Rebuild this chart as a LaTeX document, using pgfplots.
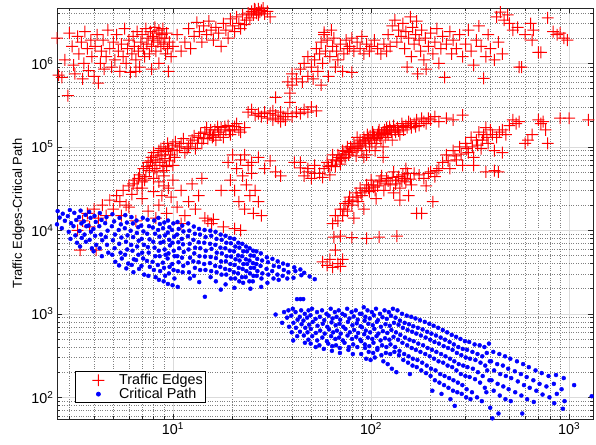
\documentclass[border=0pt]{standalone}
\usepackage{pgfplots}
\pgfplotsset{compat=1.18}
\usepackage{fontspec}
\setmainfont{Liberation Sans}
\pgfdeclareplotmark{fplus}{%
  \pgfpathmoveto{\pgfqpoint{-\pgfplotmarksize}{-0.5pt}}%
  \pgfpathlineto{\pgfqpoint{-0.5pt}{-0.5pt}}%
  \pgfpathlineto{\pgfqpoint{-0.5pt}{-\pgfplotmarksize}}%
  \pgfpathlineto{\pgfqpoint{0.5pt}{-\pgfplotmarksize}}%
  \pgfpathlineto{\pgfqpoint{0.5pt}{-0.5pt}}%
  \pgfpathlineto{\pgfqpoint{\pgfplotmarksize}{-0.5pt}}%
  \pgfpathlineto{\pgfqpoint{\pgfplotmarksize}{0.5pt}}%
  \pgfpathlineto{\pgfqpoint{0.5pt}{0.5pt}}%
  \pgfpathlineto{\pgfqpoint{0.5pt}{\pgfplotmarksize}}%
  \pgfpathlineto{\pgfqpoint{-0.5pt}{\pgfplotmarksize}}%
  \pgfpathlineto{\pgfqpoint{-0.5pt}{0.5pt}}%
  \pgfpathlineto{\pgfqpoint{-\pgfplotmarksize}{0.5pt}}%
  \pgfpathclose
  \pgfusepathqfill}
\begin{document}
\begin{tikzpicture}
\begin{axis}[
  at={(0,0)}, anchor=south west,
  scale only axis, width=536bp, height=411bp,
  xmode=log, ymode=log,
  xmin=2.6, xmax=1320, ymin=55, ymax=4.6e6,
  xtick={10,100,1000},
  xticklabels={10\textsuperscript{1},10\textsuperscript{2},10\textsuperscript{3}},
  ytick={100,1000,10000,100000,1000000},
  yticklabels={10\textsuperscript{2},10\textsuperscript{3},10\textsuperscript{4},10\textsuperscript{5},10\textsuperscript{6}},
  minor xtick={3,4,5,6,7,8,9,20,30,40,50,60,70,80,90,200,300,400,500,600,700,800,900},
  minor ytick={60,70,80,90,200,300,400,500,600,700,800,900,2000,3000,4000,5000,6000,7000,8000,9000,2e4,3e4,4e4,5e4,6e4,7e4,8e4,9e4,2e5,3e5,4e5,5e5,6e5,7e5,8e5,9e5,2e6,3e6,4e6},
  grid=both,
  major grid style={solid, black!14, line width=0.5pt},
  minor grid style={dotted, black!50, line width=0.5pt},
  tick align=inside,
  major tick length=5bp, minor tick length=3bp,
  tick style={black!85, line width=0.5pt},
  axis line style={black!85, line width=0.9pt},
  ticklabel style={font=\fontsize{14.4}{16}\selectfont},
  ylabel={Traffic Edges-Critical Path},
  ylabel style={font=\fontsize{13}{15}\selectfont},
  legend style={at={(0.034,0.039)}, anchor=south west, draw=black, line width=0.8pt, fill=white,
    font=\fontsize{14.4}{15}\selectfont, inner xsep=2pt, inner ysep=1.5pt, row sep=0pt,
    nodes={inner sep=1pt}},
  legend image code/.code={\draw[#1] plot coordinates {(0.72cm,0cm)}; \path (0cm,0cm) (1.4cm,0cm);},
  legend cell align=left,
  red mk/.style={only marks, mark=fplus, mark size=6pt, color=red, mark options={fill=red, draw=none, solid}},
]
\addplot[red mk] coordinates {
(2.6,2.0e6) (2.65,7.2e5) (2.75,6.8e5) (2.85,1.1e6) (2.95,4.1e5) (3.0,2.3e6) (3.1,1.6e6) (3.15,9.5e5) (3.2,7.5e5) (3.3,2.1e6)
(3.35,1.3e6) (3.45,1.8e6) (3.5,6.5e5) (3.55,1.0e6) (3.6,2.4e6) (3.7,1.5e6) (3.75,8.2e5) (3.85,1.9e6) (3.9,1.2e6) (4.0,7.0e5)
(4.05,1.6e6) (4.15,2.2e6) (4.2,5.8e5) (4.3,1.0e6) (4.35,1.4e6) (4.45,1.9e6) (4.5,8.5e5) (4.6,1.2e6) (4.7,2.5e6) (4.8,1.5e6)
(4.9,9.0e5) (5.0,1.8e6) (5.1,1.1e6) (5.2,2.2e6) (5.3,1.4e6) (5.4,8.0e5) (5.5,1.7e6) (5.6,1.2e6) (5.7,2.6e6) (5.8,1.0e6)
(5.9,1.5e6) (6.0,1.9e6) (6.1,7.8e5) (6.2,1.3e6) (6.3,2.1e6) (6.4,1.6e6) (6.5,1.1e6) (6.6,2.4e6) (6.7,1.4e6) (6.8,9.0e5)
(6.9,1.8e6) (7.0,2.2e6) (7.1,1.5e6) (7.2,1.2e6) (7.3,2.6e6) (7.4,1.7e6) (7.5,2.0e6) (7.6,1.3e6) (7.7,2.4e6) (7.8,1.6e6)
(7.9,2.1e6) (8.0,1.9e6) (8.1,2.7e6) (8.2,1.4e6) (8.3,2.3e6) (8.4,1.8e6) (8.5,2.5e6) (8.6,2.0e6) (8.7,1.6e6) (8.8,2.2e6)
(8.9,2.6e6) (9.0,1.7e6) (9.1,2.0e6) (9.2,1.3e6) (9.3,2.3e6) (9.4,1.5e6) (9.5,8.0e5) (9.6,1.8e6) (9.8,1.2e6) (10.0,1.6e6)
(8.5,1.0e6) (7.8,8.5e5) (6.5,8.0e5)
(10.5,2.2e6) (11.0,1.4e6) (11.5,1.8e6) (12.0,2.6e6) (12.3,1.5e6) (12.8,2.1e6) (13.2,3.1e6) (13.6,2.4e6) (14.0,1.8e6) (14.3,2.8e6)
(14.8,2.2e6) (15.2,3.2e6) (15.6,2.5e6) (16.0,1.9e6) (16.5,2.7e6) (17.0,2.3e6) (17.5,1.6e6) (18.0,3.0e6) (18.5,2.5e6) (19.0,2.0e6)
(19.5,3.4e6) (20.0,2.8e6) (20.5,2.4e6) (21.0,3.6e6) (21.5,3.0e6) (22.0,2.6e6) (22.5,3.8e6) (23.0,2.9e6) (23.5,3.3e6) (24.0,4.0e6)
(24.5,3.5e6) (25.0,4.2e6) (25.5,3.8e6) (26.0,4.4e6) (26.5,4.0e6) (27.0,4.5e6) (27.5,4.1e6) (28.0,4.3e6) (28.5,4.6e6) (29.0,3.9e6)
(30.0,4.2e6) (31.0,3.6e6) (27.0,3.8e6) (25.8,4.5e6)
};
\addlegendentry{Traffic Edges}
\addplot[red mk, forget plot] coordinates {
(24,2.6e5) (25,2.8e5) (26,2.4e5) (27,2.5e5) (28,2.3e5) (29,2.6e5) (30,2.2e5) (31,2.5e5) (32,2.1e5) (33,2.4e5)
(34,2.2e5) (35,2.0e5) (36,2.3e5) (37,2.1e5) (38,2.5e5) (40,2.3e5) (42,2.6e5) (44,2.5e5) (46,2.8e5) (48,2.6e5)
(50,3.0e5) (53,2.7e5) (35,2.6e5) (32,2.7e5) (33,3.9e5) (39,4.4e5) (39,3.4e5)
(38,6.0e5) (40,5.5e5) (40,7.5e5) (42,6.5e5) (44,8.5e5) (45,6.0e5) (46,1.0e6) (48,7.0e5) (48,1.2e6) (50,9.0e5)
(51,6.5e5) (52,1.1e6) (53,1.5e6) (54,8.0e5) (55,1.3e6) (56,1.8e6) (57,1.0e6) (58,2.2e6) (59,1.4e6) (60,1.9e6)
(61,7.0e5) (62,1.2e6) (63,2.5e6) (64,1.6e6) (65,2.0e6) (66,9.0e5) (67,1.4e6) (68,1.1e6) (70,1.7e6) (72,8.0e5)
(73,1.3e6) (75,1.9e6) (76,1.5e6) (56,5.5e5) (80,7.8e5) (58,2.35e6)
(78,1.6e6) (80,2.0e6) (82,1.4e6) (85,1.8e6) (88,1.5e6) (90,2.1e6) (92,1.3e6) (95,1.7e6) (98,1.4e6) (100,1.6e6)
(104,1.9e6) (108,1.5e6) (112,1.3e6) (116,1.7e6) (120,1.4e6) (125,1.6e6)
};
\addplot[red mk, forget plot] coordinates {
(122,2.2e6) (128,2.8e6) (132,3.3e6) (135,1.8e6) (138,2.5e6) (142,2.1e6) (145,3.0e6) (148,1.5e6) (150,2.4e6) (152,9.0e5)
(155,2.0e6) (158,3.6e6) (160,1.2e6) (162,2.7e6) (165,1.7e6) (168,2.2e6) (170,3.2e6) (172,7.5e5) (175,1.9e6) (178,1.4e6)
(180,2.5e6) (185,1.1e6) (188,2.0e6) (190,8.5e5) (195,1.6e6) (200,2.3e6) (205,1.3e6) (210,1.8e6) (215,2.6e6) (220,1.0e6)
(225,1.5e6) (230,2.1e6) (235,6.8e5)
(240,1.7e6) (250,2.4e6) (255,1.3e6) (260,1.9e6) (270,1.5e6) (280,2.2e6) (290,1.2e6) (300,1.7e6) (310,2.5e6) (320,1.4e6)
(330,9.5e5) (340,1.9e6) (350,2.8e6) (360,1.6e6) (370,6.6e5) (380,1.2e6) (390,2.2e6) (400,1.5e6) (420,1.1e6) (440,1.8e6)
(460,1.3e6)
(430,3.6e6) (450,4.1e6) (470,3.3e6) (490,3.8e6) (500,3.0e6) (520,2.5e6) (550,2.7e6) (560,9.0e5) (575,9.0e5) (600,2.2e6)
(640,3.0e6) (650,1.9e6) (660,2.5e6) (700,1.35e6) (720,1.35e6) (780,3.5e6) (830,2.4e6) (870,2.2e6) (900,2.3e6) (940,2.0e6)
(980,1.9e6)
};
\addplot[red mk, forget plot] coordinates {
(3.3,1.0e4) (3.4,5.8e3) (3.5,1.3e4) (3.7,1.6e4) (3.8,1.1e4) (4.0,1.8e4) (4.1,5.8e3) (4.2,1.4e4) (4.4,2.0e4) (4.6,1.5e4)
(4.8,2.3e4) (5.0,1.8e4) (5.2,2.6e4) (5.4,2.2e4) (5.6,3.0e4) (5.8,2.0e4) (6.0,3.4e4) (6.2,2.7e4) (6.4,4.0e4) (6.6,3.2e4)
(6.8,4.6e4) (7.0,3.8e4) (7.1,5.5e4) (7.3,4.4e4) (7.5,6.5e4) (7.6,5.2e4) (7.8,7.5e4) (7.9,6.0e4) (8.0,8.5e4) (8.2,7.0e4)
(8.3,5.0e4) (8.5,9.0e4) (8.6,6.5e4) (8.8,8.0e4) (9.0,1.0e5) (9.1,7.2e4) (9.3,5.8e4) (9.5,9.5e4) (9.7,8.0e4) (10.0,1.05e5)
(10.2,7.5e4) (10.5,9.0e4) (11.0,1.1e5) (11.5,8.5e4) (12.0,1.0e5) (12.5,1.2e5) (13.0,9.5e4) (13.5,1.3e5) (14.0,1.1e5) (14.5,1.5e5)
(15.0,1.25e5) (15.5,1.6e5) (16.0,1.35e5) (16.5,1.2e5) (17.0,1.5e5) (17.5,1.7e5) (18.0,1.3e5) (18.5,1.6e5) (19.0,1.8e5) (19.5,1.4e5)
(20.0,1.6e5) (21.0,1.9e5) (22.0,1.5e5) (23.0,1.7e5)
(6.3,3.6e4) (6.7,4.2e4) (7.2,4.0e4) (7.4,5.8e4) (7.7,6.8e4) (8.1,5.5e4) (8.4,7.8e4) (8.7,9.5e4) (8.9,6.0e4) (9.2,8.8e4)
(9.4,1.1e5) (9.6,6.8e4) (9.9,9.2e4) (10.3,1.15e5) (10.8,1.0e5) (11.3,1.25e5) (11.8,9.5e4) (12.3,1.1e5) (12.8,1.35e5) (13.3,1.1e5)
(13.8,1.45e5) (14.3,1.25e5) (14.8,1.7e5) (15.3,1.4e5) (15.8,1.3e5) (16.3,1.6e5) (16.8,1.75e5) (17.3,1.4e5) (18.3,1.75e5) (19.3,1.55e5)
(20.5,1.75e5) (21.5,1.6e5) (8.0,4.2e4) (9.0,5.2e4) (10.0,6.0e4) (7.0,3.2e4)
(5.5,1.5e4) (6.0,1.9e4) (6.5,1.3e4) (7.0,2.4e4) (7.5,1.7e4) (8.0,2.9e4) (8.2,1.4e4) (8.5,2.0e4) (9.0,3.4e4) (9.3,1.6e4)
(9.8,2.5e4) (10.5,1.9e4) (11.0,3.0e4) (11.5,1.5e4) (12.0,2.2e4) (12.5,3.6e4) (13.0,1.8e4) (13.5,2.6e4) (14.0,4.2e4) (14.5,1.4e4)
(15.0,1.3e4) (16.0,1.35e4) (11.0,1.2e4) (15.7,1.2e4)
(8.5,3.8e4) (9.0,4.5e4) (9.5,3.2e4) (10.0,4.0e4) (8.8,2.6e4)
(19.0,6.5e4) (19.5,4.0e4) (20.0,8.0e4) (20.5,3.0e4) (21.0,5.5e4) (21.5,2.2e4) (22.0,7.0e4) (22.5,4.5e4) (23.0,1.8e4) (23.5,3.5e4)
(24.0,6.0e4) (24.5,2.6e4) (25.0,4.8e4) (25.5,1.6e4) (26.0,3.0e4) (27.0,2.2e4) (28.0,1.5e4) (20.5,1.05e4) (22.0,1.0e4) (18.0,1.1e4)
(17.5,3.0e4)
(23,8.0e4) (25,6.5e4) (27,7.5e4) (29,5.5e4) (31,6.8e4) (33,5.0e4) (35,4.5e4) (41,6.5e4) (44,5.6e4) (48,5.0e4) (52,4.8e4)
};
\addplot[red mk, forget plot] coordinates {
(44,6.5e4) (46,4.5e4) (48,5.5e4) (50,4.2e4) (52,6.0e4) (55,4.8e4) (57,4.3e4) (58,5.5e4) (60,6.5e4) (62,4.6e4)
(64,7.0e4) (66,5.8e4) (68,8.0e4) (70,6.2e4) (72,9.0e4) (74,7.5e4) (76,1.0e5) (78,8.5e4) (80,9.5e4) (82,1.1e5)
(84,7.8e4) (86,1.0e5) (88,1.2e5) (90,9.0e4) (92,1.3e5) (94,1.1e5) (96,1.4e5) (98,1.0e5) (100,1.2e5) (102,1.5e5)
(104,1.3e5) (106,1.1e5) (108,1.4e5) (110,1.6e5) (112,1.2e5) (115,1.5e5) (118,1.3e5) (120,1.7e5) (122,1.4e5) (125,1.6e5)
(128,1.2e5) (130,1.8e5) (133,1.5e5) (136,1.7e5) (140,1.4e5) (143,1.9e5) (146,1.6e5) (150,1.8e5) (155,2.0e5) (160,1.7e5)
(165,1.9e5) (170,2.1e5) (175,1.8e5) (180,2.2e5) (190,1.9e5) (200,2.1e5) (210,2.3e5) (220,2.0e5) (240,2.2e5) (260,2.1e5)
(290,2.4e5) (105,9.0e4) (95,8.0e4) (115,1.0e5) (85,1.3e5) (92,7.5e4) (64,8.0e4) (70,6.8e4) (115,7.5e4)
(61,5.8e4) (63,6.0e4) (67,6.8e4) (69,7.5e4) (71,7.2e4) (73,8.2e4) (75,8.8e4) (77,8.0e4) (79,1.0e5) (81,9.0e4)
(83,1.0e5) (85,9.5e4) (87,1.1e5) (89,1.05e5) (91,1.15e5) (93,1.2e5) (97,1.25e5) (99,1.35e5) (101,1.1e5) (103,1.4e5)
(107,1.25e5) (109,1.5e5) (111,1.35e5) (113,1.45e5) (117,1.6e5) (119,1.45e5) (121,1.55e5) (124,1.75e5) (127,1.5e5) (132,1.6e5)
(138,1.55e5) (145,1.75e5) (152,1.7e5) (158,1.9e5) (168,1.75e5) (185,2.0e5) (195,2.2e5)
};
\addplot[red mk, forget plot] coordinates {
(57,4.2e3) (60,3.8e3) (62,4.5e3) (64,3.6e3) (66,5.8e3) (68,4.0e3) (70,3.7e3) (72,4.5e3) (65,8.3e3) (70,8.5e3)
(80,8.2e3) (95,8.0e3) (110,8.3e3) (135,8.5e3)
(64,1.2e4) (66,1.5e4) (68,1.3e4) (70,1.8e4) (72,1.5e4) (74,2.1e4) (76,1.7e4) (78,2.5e4) (80,2.0e4) (82,1.4e4)
(84,2.8e4) (86,2.2e4) (88,3.2e4) (90,2.6e4) (92,1.8e4) (95,3.5e4) (98,2.9e4) (100,4.0e4) (103,3.3e4) (106,2.4e4)
(110,3.8e4) (113,4.5e4) (116,3.0e4) (120,4.2e4) (125,3.5e4) (130,2.8e4) (135,4.0e4) (140,3.2e4) (145,4.6e4) (150,3.8e4)
(155,2.6e4) (160,3.5e4) (165,4.8e4) (170,1.6e4) (180,1.6e4) (185,4.2e4) (190,3.4e4) (205,2.2e4) (200,5.0e4) (210,4.4e4)
(220,5.5e4) (140,2.3e4) (130,5.0e4) (150,5.5e4)
(73,1.8e4) (77,2.2e4) (81,2.3e4) (85,2.5e4) (89,2.8e4) (93,3.0e4) (97,3.2e4) (101,3.5e4) (105,3.0e4) (108,3.4e4)
(112,4.0e4) (118,3.6e4) (122,3.9e4) (128,4.3e4) (133,3.6e4) (138,4.4e4) (143,3.9e4) (148,4.2e4) (153,4.8e4) (158,4.1e4)
(175,4.6e4) (195,4.8e4) (215,5.2e4) (245,6.8e4) (265,7.8e4) (285,8.2e4) (305,9.5e4) (325,1.0e5) (345,1.05e5) (365,1.2e5)
(385,1.3e5) (410,1.4e5) (445,1.5e5)
(230,6.5e4) (240,8.0e4) (250,5.5e4) (260,9.0e4) (270,7.0e4) (280,1.0e5) (290,6.0e4) (300,1.1e5) (310,8.5e4) (320,1.3e5)
(330,7.5e4) (340,1.2e5) (350,1.5e5) (360,9.5e4) (370,1.4e5) (380,1.7e5) (390,1.1e5) (400,1.6e5) (420,5.2e4) (440,5.0e4)
(430,1.3e5) (460,1.6e5) (480,1.4e5) (330,6.0e4) (380,5.0e4) (420,9.0e4) (460,8.5e4)
(500,1.8e5) (520,2.1e5) (540,1.9e5) (560,2.0e5) (600,1.1e5) (620,1.2e5) (650,1.4e5) (700,2.1e5) (720,1.9e5) (740,2.0e5)
(760,1.6e5) (780,1.1e5) (900,2.2e5) (1000,2.2e5) (1250,2.1e5)
};
\addplot[only marks, mark=*, mark size=2pt, color=blue, mark options={draw=blue, fill=blue}] coordinates {
(2.62,1.7e4) (2.68,1.42e4) (2.6,1.18e4) (2.78,1.58e4) (2.85,1.3e4) (2.75,1.06e4)
(3.02,1.75e4) (2.95,1.48e4) (3.06,1.22e4) (2.98,9.6e3) (3.04,7.9e3)
(3.18,1.62e4) (3.25,1.33e4) (3.15,1.12e4) (3.22,8.7e3) (3.28,7.1e3)
(3.42,1.72e4) (3.36,1.44e4) (3.45,1.21e4) (3.38,9.8e3) (3.47,8.1e3) (3.4,6.4e3)
(3.62,1.53e4) (3.55,1.28e4) (3.66,1.12e4) (3.58,8.9e3) (3.64,7.3e3)
(3.78,1.66e4) (3.84,1.41e4) (3.75,1.14e4) (3.86,9.6e3) (3.8,7.7e3) (3.9,6.1e3)
(4.02,1.49e4) (4.08,1.26e4) (3.97,1.04e4) (4.05,8.6e3) (4.1,6.7e3) (3.98,5.6e3)
(4.28,1.61e4) (4.36,1.33e4) (4.25,1.12e4) (4.33,8.9e3) (4.4,7.6e3) (4.27,6.1e3) (4.38,4.9e3)
(4.62,1.44e4) (4.55,1.22e4) (4.68,9.9e3) (4.58,8.3e3) (4.65,6.7e3) (4.72,5.4e3)
(4.95,1.56e4) (5.05,1.28e4) (4.92,1.12e4) (5.1,8.9e3) (4.98,7.6e3) (5.08,6.1e3) (4.94,5.1e3) (5.12,4.2e3)
(5.38,1.41e4) (5.46,1.18e4) (5.33,1.01e4) (5.5,8.2e3) (5.36,6.9e3) (5.44,5.4e3) (5.52,4.6e3) (5.35,3.8e3)
(5.75,1.52e4) (5.86,1.24e4) (5.72,1.06e4) (5.9,8.7e3) (5.8,7.3e3) (5.88,5.9e3) (5.74,5.1e3) (5.95,4.0e3) (5.82,3.5e3)
(6.18,1.44e4) (6.28,1.21e4) (6.12,9.9e3) (6.3,8.3e3) (6.16,6.7e3) (6.25,5.7e3) (6.35,4.5e3) (6.2,3.85e3) (6.32,3.15e3)
(6.55,1.31e4) (6.68,1.09e4) (6.58,9.3e3) (6.72,7.5e3) (6.6,6.4e3) (6.7,5.1e3) (6.52,4.4e3) (6.75,3.45e3)
(7.05,1.41e4) (6.92,1.14e4) (7.1,9.7e3) (6.96,7.9e3) (7.14,6.7e3) (7.0,5.4e3) (7.08,4.6e3) (6.94,3.75e3) (7.16,2.95e3)
(7.45,1.34e4) (7.58,1.12e4) (7.42,9.1e3) (7.62,7.8e3) (7.48,6.3e3) (7.55,5.4e3) (7.4,4.3e3) (7.65,3.65e3) (7.52,2.85e3)
(8.05,1.31e4) (7.92,1.08e4) (8.12,9.1e3) (7.96,7.3e3) (8.08,6.2e3) (8.15,4.9e3) (7.9,4.2e3) (8.02,3.35e3) (8.18,2.75e3)
(8.45,1.41e4) (8.6,1.19e4) (8.42,1.01e4) (8.55,8.4e3) (8.65,7.1e3) (8.48,5.7e3) (8.58,4.9e3) (8.4,3.85e3) (8.62,3.25e3) (8.5,2.55e3)
(9.05,1.24e4) (8.92,1.06e4) (9.12,8.7e3) (8.96,7.3e3) (9.08,5.9e3) (9.18,5.1e3) (8.9,4.1e3) (9.02,3.55e3) (9.14,2.85e3) (8.98,2.45e3)
(9.45,1.31e4) (9.6,1.09e4) (9.42,9.4e3) (9.58,7.7e3) (9.66,6.6e3) (9.5,5.3e3) (9.4,4.6e3) (9.62,3.65e3) (9.55,3.05e3) (9.44,2.28e3)
(10.05,1.21e4) (9.9,1.01e4) (10.15,8.4e3) (9.95,7.1e3) (10.1,5.7e3) (10.2,4.9e3) (9.92,3.95e3) (10.08,3.35e3) (10.18,2.65e3) (9.96,2.2e3)
(10.55,1.26e4) (10.7,1.04e4) (10.5,8.9e3) (10.65,7.2e3) (10.75,6.1e3) (10.52,4.9e3) (10.68,4.15e3) (10.6,3.25e3) (10.58,2.1e3)
(11.15,1.14e4) (11.3,9.7e3) (11.1,7.9e3) (11.25,6.8e3) (11.35,5.5e3) (11.12,4.7e3) (11.28,3.75e3) (11.2,3.15e3)
(11.95,1.21e4) (12.1,9.9e3) (11.9,8.5e3) (12.15,6.9e3) (12.0,5.9e3) (12.2,4.7e3) (11.88,4.05e3) (12.06,3.15e3) (12.18,2.65e3)
(12.75,1.11e4) (12.9,9.1e3) (12.7,7.7e3) (12.95,6.2e3) (12.82,5.3e3) (12.68,4.25e3) (12.92,3.55e3) (12.78,2.85e3)
(13.55,1.04e4) (13.7,8.9e3) (13.5,7.2e3) (13.75,6.1e3) (13.62,4.9e3) (13.48,4.15e3) (13.72,3.35e3) (13.58,2.4e3)
(14.45,1.01e4) (14.62,8.3e3) (14.4,7.1e3) (14.66,5.7e3) (14.52,4.85e3) (14.38,3.95e3) (14.6,3.35e3) (14.5,1.6e3)
(15.45,9.9e3) (15.62,8.6e3) (15.4,6.9e3) (15.66,6.0e3) (15.52,4.8e3) (15.38,4.05e3) (15.6,3.25e3) (15.5,2.75e3)
(16.42,9.6e3) (16.6,7.9e3) (16.38,6.7e3) (16.65,5.4e3) (16.5,4.65e3) (16.35,3.75e3) (16.62,3.15e3) (16.48,2.45e3)
(17.42,8.9e3) (17.62,7.7e3) (17.38,6.2e3) (17.66,5.3e3) (17.5,4.25e3) (17.35,3.65e3) (17.6,2.95e3) (17.45,1.95e3)
(18.42,8.6e3) (18.62,7.1e3) (18.38,6.1e3) (18.66,4.9e3) (18.5,4.25e3) (18.35,3.45e3) (18.6,2.95e3) (18.45,2.25e3)
(19.42,8.1e3) (19.62,7.0e3) (19.38,5.7e3) (19.66,4.85e3) (19.5,3.95e3) (19.35,3.35e3) (19.6,2.65e3)
(20.4,7.9e3) (20.65,6.4e3) (20.35,5.6e3) (20.7,4.5e3) (20.5,3.85e3) (20.32,3.15e3) (20.62,2.65e3) (20.45,2.05e3)
(21.4,7.1e3) (21.65,6.2e3) (21.35,5.0e3) (21.7,4.35e3) (21.5,3.55e3) (21.32,3.05e3) (21.62,2.45e3)
(22.4,6.9e3) (22.65,5.6e3) (22.35,4.9e3) (22.7,3.95e3) (22.5,3.45e3) (22.32,2.75e3) (22.62,2.35e3)
(23.4,6.4e3) (23.65,5.6e3) (23.35,4.5e3) (23.7,3.95e3) (23.5,3.25e3) (23.32,2.75e3)
(24.4,6.1e3) (24.65,5.0e3) (24.35,4.35e3) (24.7,3.55e3) (24.5,3.05e3) (24.32,2.45e3) (24.62,2.0e3)
(25.4,5.7e3) (25.65,4.95e3) (25.35,4.05e3) (25.7,3.55e3) (25.5,2.85e3) (25.32,2.45e3)
(26.4,5.6e3) (26.65,4.55e3) (26.35,3.95e3) (26.7,3.25e3) (26.5,2.85e3)
(27.8,5.3e3) (28.2,4.35e3) (27.7,3.75e3) (28.3,3.05e3) (28.0,2.65e3) (27.9,2.1e3)
(29.8,4.75e3) (30.2,4.15e3) (29.7,3.45e3) (30.3,2.95e3) (30.0,2.35e3)
(31.8,4.55e3) (32.3,3.75e3) (31.7,3.25e3) (32.2,2.65e3)
(33.8,4.25e3) (34.3,3.65e3) (33.7,2.95e3) (34.2,2.55e3)
(36,4e3) (36.3,3.35e3) (35.8,2.85e3) (38,3.85e3) (38.3,3.15e3) (37.8,2.65e3)
(41,3.6e3) (41.5,3.25e3) (40.6,2.7e3) (44,3.4e3) (44.5,2.9e3) (44,1.5e3) (46,3.1e3) (45.5,1.5e3) (49,2.8e3) (52,2.6e3)
(33,980) (36.4,1.05e3) (35.6,780) (38.3,1.1e3) (37.7,900) (38.6,700)
(40.3,1.15e3) (39.6,950) (40.6,780) (39.8,600) (40.5,480)
(42.3,1.5e3) (41.6,1.05e3) (42.6,850) (41.8,680) (42.4,540)
(44.4,1.1e3) (43.7,920) (44.6,750) (43.8,610)
(46.3,1.0e3) (45.6,830) (46.6,680) (45.8,550) (46.4,450)
(48.4,1.1e3) (47.6,900) (48.7,740) (47.8,600) (48.3,490)
(50.4,1.15e3) (49.5,960) (50.8,800) (49.7,660) (50.5,540) (49.6,440)
(53.4,1.05e3) (52.5,870) (53.7,720) (52.7,590) (53.5,480) (52.6,400)
(56.6,1.1e3) (55.2,920) (57.1,760) (55.4,630) (56.8,520) (54.9,420)
(59.6,1.0e3) (58.1,840) (60.2,700) (58.4,580) (59.9,470) (57.8,380)
(62.6,1.15e3) (61.1,950) (63.2,790) (61.4,650) (62.9,540) (60.8,440) (63.5,360)
(65.7,1.05e3) (64.0,880) (66.3,730) (64.4,600) (66.0,500) (63.7,410)
(68.7,1.1e3) (67.0,920) (69.4,760) (67.3,630) (69.0,520) (66.6,420) (69.7,340)
(71.7,1.0e3) (69.9,850) (72.4,700) (70.3,580) (72.1,480) (69.6,390)
(75.8,1.15e3) (73.9,960) (76.5,800) (74.3,660) (76.1,550) (73.5,450) (76.9,370)
(79.8,1.05e3) (77.8,880) (80.6,730) (78.2,600) (80.2,500) (77.4,400) (81.0,330)
(83.8,1.1e3) (81.8,930) (84.7,770) (82.2,640) (84.2,530) (81.3,430)
(87.9,1.0e3) (85.7,850) (88.7,710) (86.1,590) (88.3,490) (85.3,400) (89.2,330)
(91.9,1.2e3) (89.6,1.0e3) (92.8,830) (90.1,690) (92.4,570) (89.2,470) (93.3,390)
(96.0,1.1e3) (93.6,920) (96.9,760) (94.1,630) (96.4,520) (93.1,430) (97.4,350) (94.5,290)
(101,1.05e3) (98.5,880) (102,730) (99,600) (101.5,500) (98,410) (102.5,340) (99.5,280)
(106,1.15e3) (103.4,960) (107,800) (104,660) (106.6,540) (102.9,450) (107.6,370) (104.5,300)
(111,1.0e3) (108.4,840) (112.2,700) (108.9,580) (111.7,480) (107.8,390) (112.8,320)
(117,1.1e3) (114.3,910) (118.3,750) (114.8,620) (117.7,510) (113.7,420) (118.9,340) (115.4,270)
(123,1.05e3) (120.2,870) (124.4,720) (120.8,590) (123.8,490) (119.6,400) (125,330) (121.4,250)
(129,1.15e3) (126.1,950) (130.6,780) (126.7,640) (129.9,530) (125.4,430) (131.2,350) (127.4,220)
(136,1.1e3) (133,900) (137.7,740) (133.7,600) (137,490) (132.3,400) (138.4,320) (134.3,200)
(143.4,1.0e3) (139.9,830) (144.8,680) (140.6,560) (144.1,450) (139.2,360) (145.6,280)
(151.5,950) (147.8,780) (153,640) (148.5,520) (152.3,420) (147,330) (153.8,260)
(159.6,920) (155.6,750) (161.2,610) (156.4,490) (160.4,390) (154.8,310) (162,240) (157.2,190)
(167.7,880) (163.5,710) (169.3,580) (164.3,470) (168.5,370) (162.7,290) (170.2,230)
(176.8,840) (172.4,680) (178.5,550) (173.3,440) (177.6,350) (171.5,280) (179.4,210)
(186.9,800) (182.2,650) (188.7,520) (183.2,420) (187.8,330) (181.3,260) (189.6,195)
(197,760) (192.1,610) (198.9,490) (193.1,390) (197.9,310) (191.1,240) (199.9,180)
(207,720) (201.9,580) (209.1,460) (203,370) (208.1,290) (200.9,220) (210.1,160) (204,120)
(218.2,680) (212.8,550) (220.3,440) (213.8,350) (219.2,270) (211.7,210) (221.4,150)
(230.3,640) (224.6,520) (232.6,410) (225.7,330) (231.4,260) (223.4,190) (233.7,140) (226.9,110)
(242.4,600) (236.4,490) (244.8,390) (237.6,310) (243.6,240) (235.2,180) (246,130)
(255.5,560) (249.2,460) (258,370) (250.5,290) (256.8,230) (247.9,170) (259.3,120) (251.7,95)
(268.7,530) (262,430) (271.3,340) (263.3,270) (270,210) (260.7,160) (272.7,115) (264.7,79)
(282.8,500) (275.8,400) (285.6,320) (277.2,250) (284.2,190) (274.4,150) (287,110)
(298,470) (290.6,380) (300.9,300) (292,240) (299.4,180) (289.1,140) (302.4,100)
(313.1,460) (305.4,370) (316.2,290) (306.9,230) (314.7,175) (303.8,125) (317.8,95)
(333.3,430) (325,350) (336.6,280) (326.7,220) (335,165) (323.4,115)
(353.5,420) (344.8,330) (357,260) (346.5,200) (355.3,150) (343,100)
(373.7,400) (364.5,310) (377.4,240) (366.3,180) (375.6,130) (362.6,90)
(393.9,440) (384.2,340) (397.8,270) (386.1,210) (395.9,160) (382.2,115) (399.8,75)
(414.1,350) (403.9,270) (418.2,210) (405.9,160) (416.2,120) (410,56)
(444.4,330) (433.4,250) (448.8,190) (435.6,145) (446.6,105) (440,64)
(474.7,310) (463,240) (479.4,180) (465.3,135) (477,95)
(505,290) (492.5,220) (510,170) (495,125) (507.5,90)
(545.4,270) (531.9,205) (550.8,155) (534.6,115)
(585.8,250) (571.3,190) (591.6,140) (574.2,105) (580,64)
(626.2,230) (610.7,175) (632.4,130) (613.8,95)
(676.7,210) (660,160) (683.4,120) (663.3,88)
(727.2,195) (709.2,145) (734.4,108)
(787.8,180) (768.3,135) (795.6,100)
(858.5,185) (837.3,145) (867,110) (841.5,85)
(939.3,170) (916,125) (948.6,90) (930,73)
(1060,140) (1300,103)
};
\addlegendentry{Critical Path}
\end{axis}
\pgfresetboundingbox
\path[use as bounding box] (-57bp,-26bp) rectangle (539bp,419bp);
\end{tikzpicture}
\end{document}
